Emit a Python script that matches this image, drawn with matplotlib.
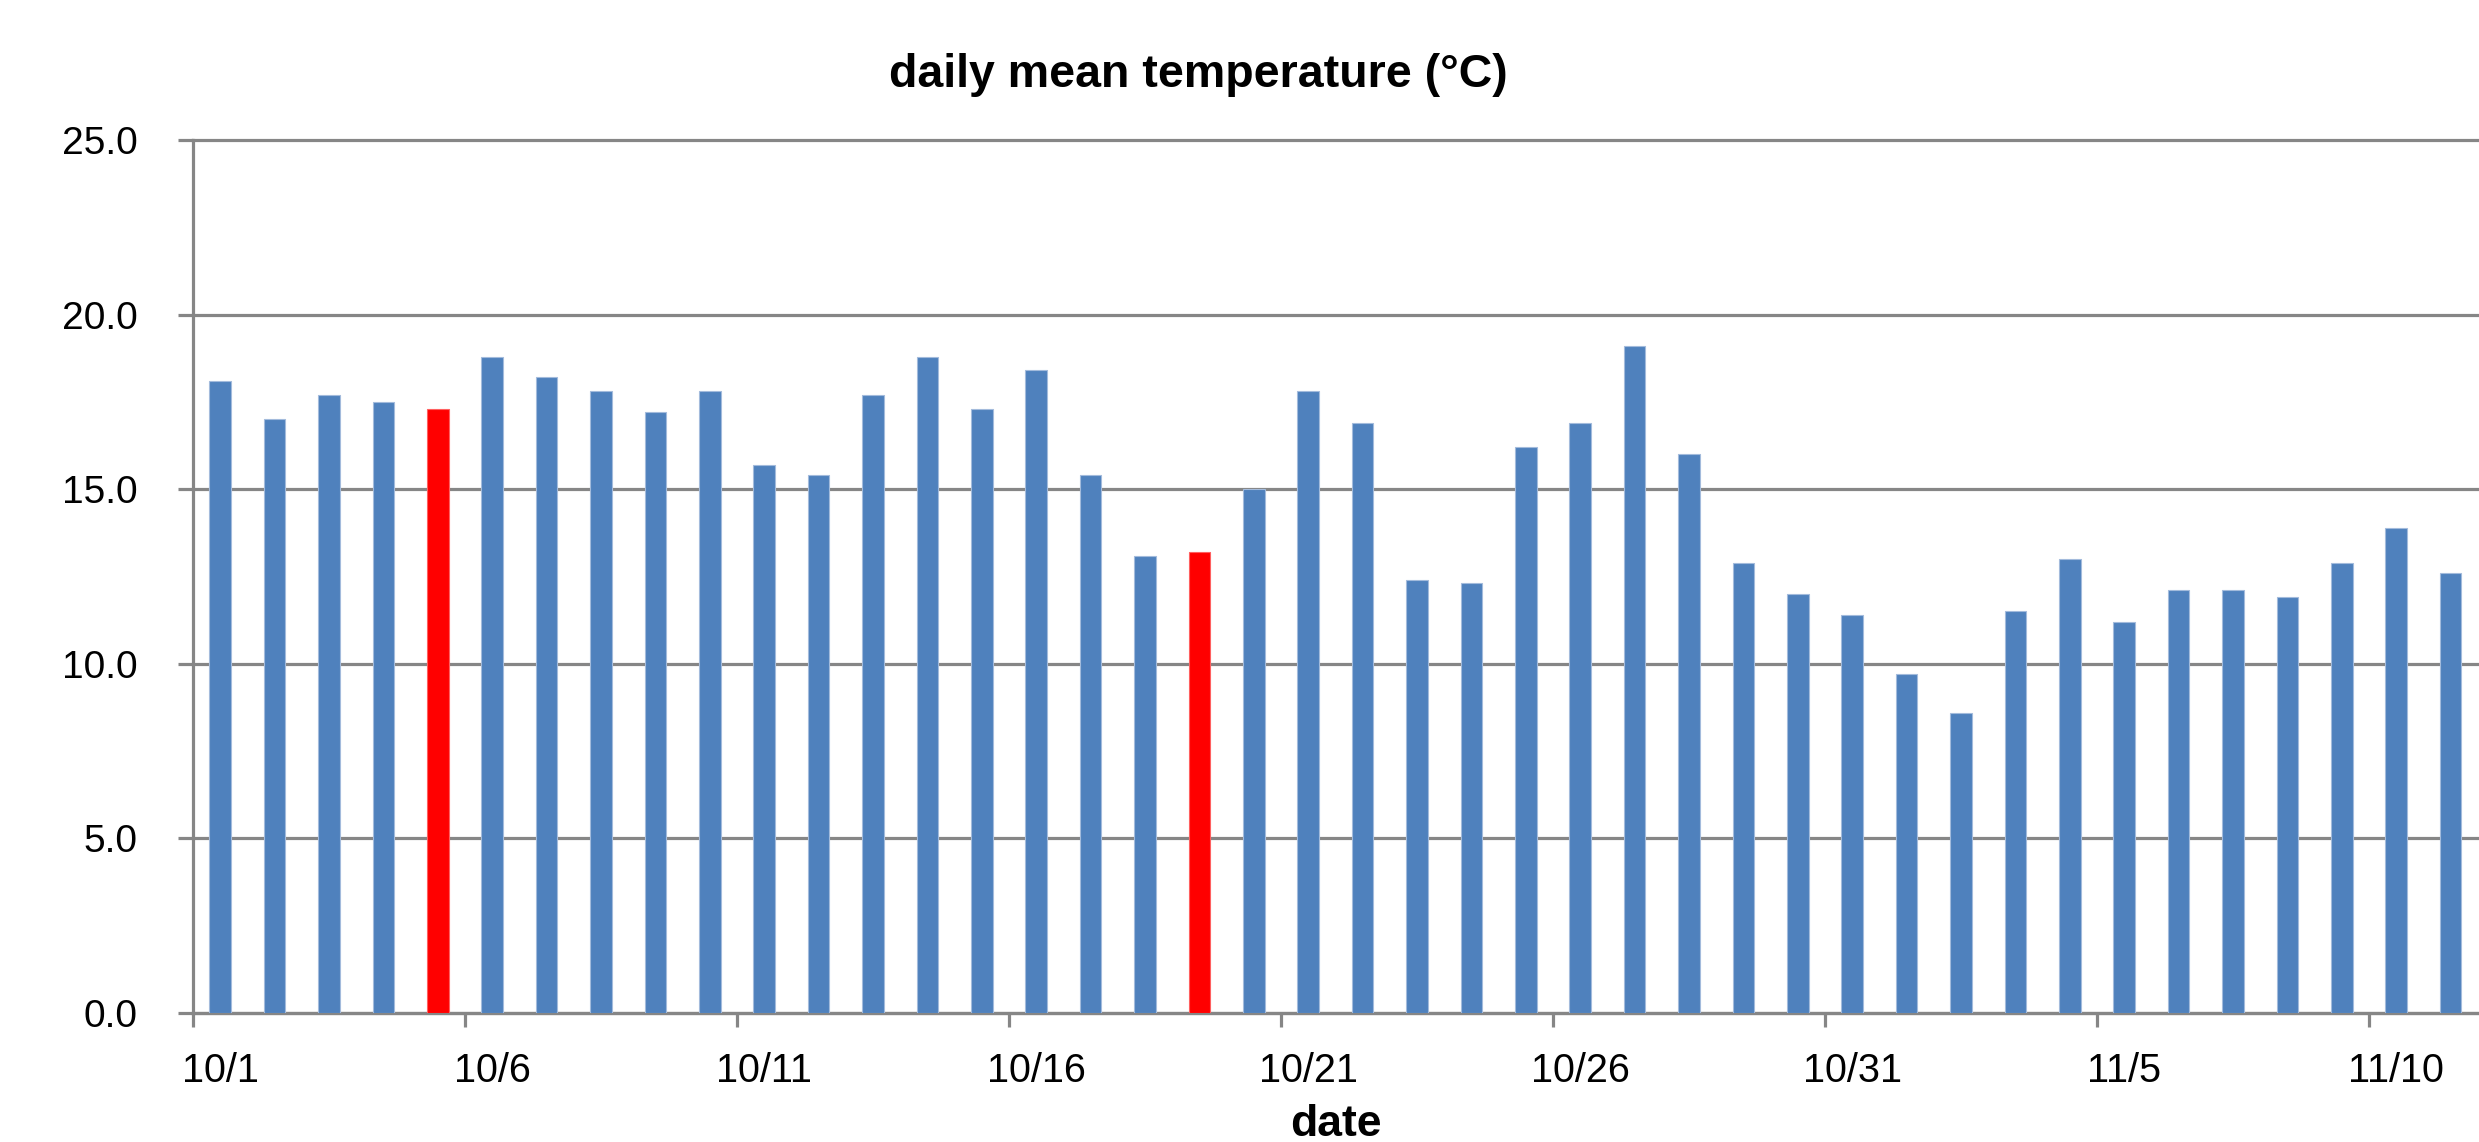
import numpy as np
import matplotlib.pyplot as pl


output_fn = 'out.png'

# daily mean temperature, 10/1 .. 11/11
dates = ['10/%d' % d for d in range(1, 32)] + ['11/%d' % d for d in range(1, 12)]
temps = [18.1, 17.0, 17.7, 17.5, 17.3, 18.8, 18.2, 17.8, 17.2, 17.8,
         15.7, 15.4, 17.7, 18.8, 17.3, 18.4, 15.4, 13.1, 13.2, 15.0,
         17.8, 16.9, 12.4, 12.3, 16.2, 16.9, 19.1, 16.0, 12.9, 12.0,
         11.4, 9.7, 8.6, 11.5, 13.0, 11.2, 12.1, 12.1, 11.9, 12.9,
         13.9, 12.6]
highlight = ['10/5', '10/19']   # red bars
yticks = [0, 5, 10, 15, 20, 25]

BLUE = '#4f81bd'
RED = '#ff0000'
GRAY = '#868686'

fig = pl.figure(figsize=(24.79, 11.42), dpi=100)
ax = fig.add_axes([193 / 2479., 1 - 1013 / 1142., 1 - 193 / 2479., (1013 - 140) / 1142.])

x = np.arange(len(dates))
colors = [RED if d in highlight else BLUE for d in dates]
edges = ['#ff6060' if d in highlight else '#a3bbdc' for d in dates]
ax.bar(x, temps, width=0.4, color=colors, edgecolor=edges, linewidth=0.8, zorder=3)

# Axes ranges
ax.set_xlim(-0.5, -0.5 + (2479 - 193) / 54.4)
ax.set_ylim(yticks[0], yticks[-1])

# y axis: ticks outside, one decimal, horizontal grid
ax.set_yticks(yticks)
ax.set_yticklabels(['%.1f' % v for v in yticks], fontsize=28, family='Liberation Sans')
ax.tick_params(axis='y', direction='out', length=11, width=2.3, color=GRAY, pad=29)
ax.yaxis.grid(True, color=GRAY, linewidth=2.3, zorder=0)
for gl in ax.get_ygridlines():
    gl.set_clip_on(False)
ax.set_axisbelow(True)

# x axis: ticks on category boundaries every 5 days, labels on the day itself
ax.set_xticks(np.arange(-0.5, len(dates), 5))
ax.set_xticklabels([])
ax.tick_params(axis='x', which='major', direction='out', length=10, width=2.3, color=GRAY)
ax.set_xticks(x[::5], minor=True)
ax.set_xticklabels(dates[::5], minor=True, fontsize=28.5, family='Liberation Sans')
ax.tick_params(axis='x', which='minor', length=0, pad=28)

# Spines
ax.spines['top'].set_visible(False)
ax.spines['right'].set_visible(False)
for s in ['left', 'bottom']:
    ax.spines[s].set_color(GRAY)
    ax.spines[s].set_linewidth(2.3)

fig.text(1198 / 2479., 1 - 75 / 1142., 'daily mean temperature (\u00b0C)',
         ha='center', va='center', fontsize=33.5, fontweight='bold', family='Liberation Sans')
# x label sits at the very bottom edge
fig.text((193 + 2479) / 2. / 2479., 1 - 1104 / 1142., 'date',
         ha='center', va='top', fontsize=32, fontweight='bold', family='Liberation Sans')

pl.savefig(output_fn, dpi=100)
pl.close()
